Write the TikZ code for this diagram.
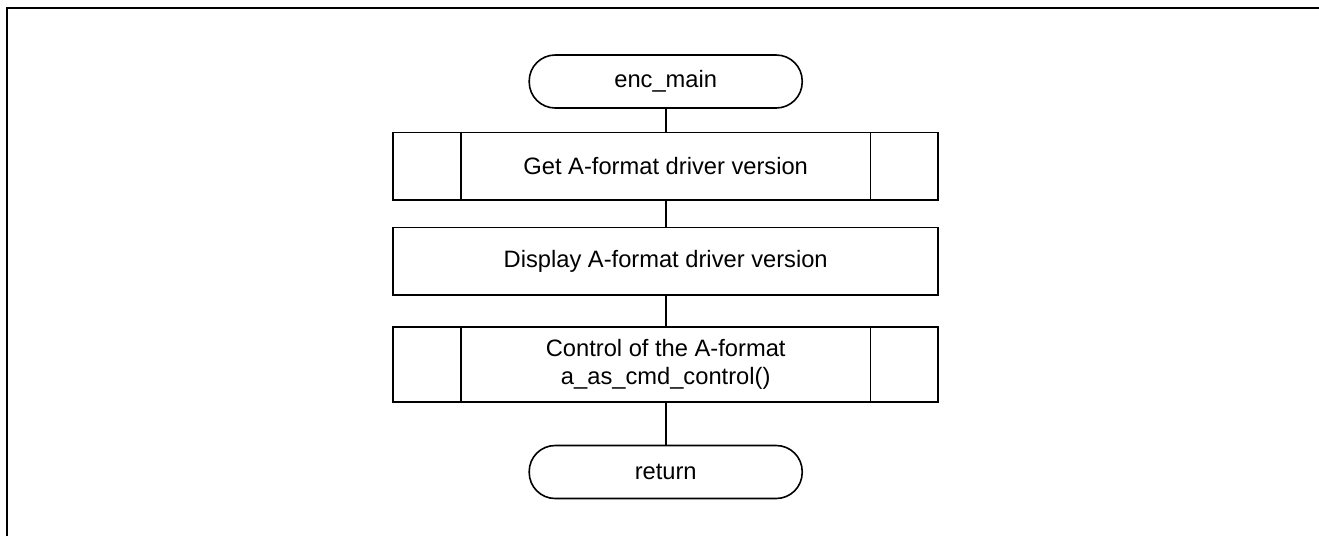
\documentclass[tikz,border=0pt]{standalone}
\usepackage{fontspec}
\setmainfont{Liberation Sans}
\usetikzlibrary{calc}
\begin{document}
\begin{tikzpicture}[x=1pt,y=-1pt,
  every node/.style={font=\fontsize{23.7}{28}\selectfont},
  shape line/.style={line width=1.6pt},
  terminal/.style={draw,shape line,rectangle,rounded corners=26pt,minimum width=273pt,minimum height=53pt,inner sep=0pt},
  procbox/.style={draw,shape line,rectangle,minimum width=545pt,inner sep=0pt,align=center},
  conn/.style={line width=1.6pt}]
\useasboundingbox (0,0) rectangle (1319,536);
\draw[line width=2.2pt] (7,536) -- (7,8) -- (1319,8);
\node[terminal] (start) at (665.7,81.5) {enc\_main};
\node[procbox,minimum height=67.5pt] (b1) at (665.7,166.4) {Get A-format driver version};
\node[procbox,minimum height=67.5pt] (b2) at (665.7,261.2) {Display A-format driver version};
\node[procbox,minimum height=75pt] (b3) at (665.7,364.2) {Control of the A-format\\a\_as\_cmd\_control()};
\node[terminal] (ret) at (665.7,472) {return};
\foreach \n in {b1,b3}{
  \draw[shape line] ($(\n.north west)+(68.4,0)$) -- ($(\n.south west)+(68.4,0)$);
  \draw[shape line] ($(\n.north east)+(-68.4,0)$) -- ($(\n.south east)+(-68.4,0)$);
}
\draw[conn] (start) -- (b1);
\draw[conn] (b1) -- (b2);
\draw[conn] (b2) -- (b3);
\draw[conn] (b3) -- (ret);
\end{tikzpicture}
\end{document}
